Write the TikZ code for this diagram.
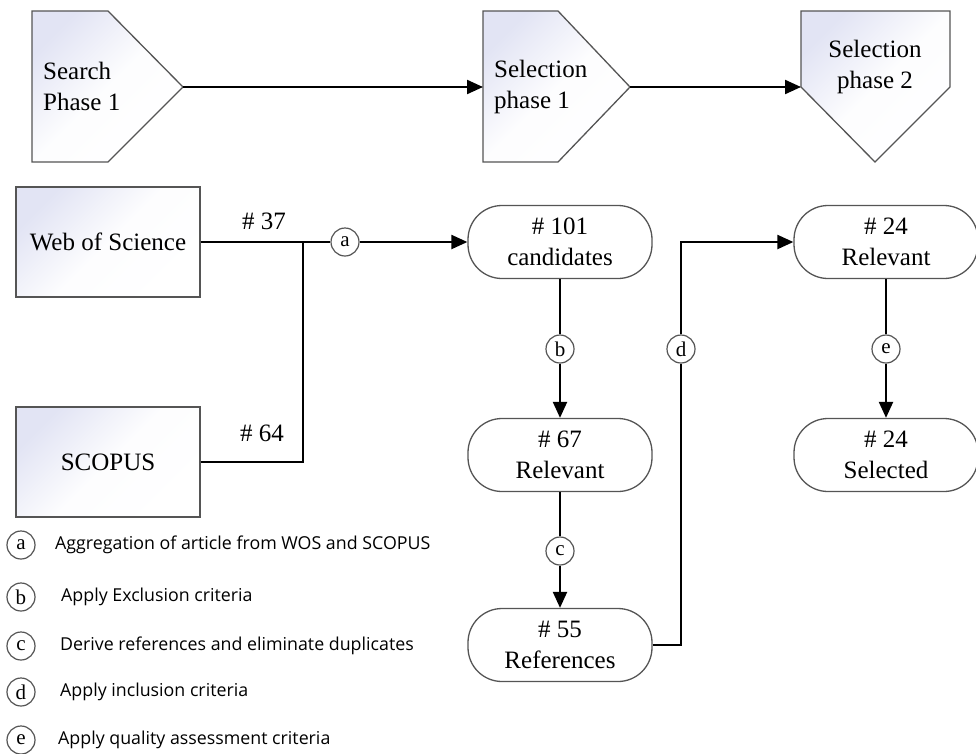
\documentclass[tikz,border=0pt]{standalone}
\usepackage{fontspec}
\setmainfont{Liberation Serif}
\newfontfamily\legfont{Open Sans}
\usetikzlibrary{arrows.meta}
\definecolor{lav}{HTML}{E2E4F4}
\definecolor{edge}{HTML}{555555}
\tikzset{
  shadebox/.style={draw=edge, line width=1.3pt, top color=lav, bottom color=white, middle color=white!92!lav, shading angle=45},
  srcbox/.style={shadebox, minimum width=184pt, minimum height=110pt, inner sep=0pt, font=\fontsize{25}{30}\selectfont},
  stadium/.style={draw=edge, line width=1.3pt, fill=white, rounded corners=34pt, minimum width=184pt, minimum height=73pt, inner sep=0pt, align=center, font=\fontsize{25}{31}\selectfont},
  lab/.style={circle, draw=edge, line width=1.2pt, fill=white, minimum size=28pt, inner sep=0pt, font=\fontsize{21}{21}\selectfont},
  phtext/.style={align=left, inner sep=0pt, font=\fontsize{25}{31}\selectfont},
  numtext/.style={inner sep=0pt, font=\fontsize{25}{25}\selectfont},
  legtext/.style={anchor=west, inner sep=0pt, font=\legfont\fontsize{17.8}{20}\selectfont},
  conn/.style={line width=2.2pt, black},
  arr/.style={conn, -{Triangle[length=16pt, width=14pt]}},
}
\begin{document}
\begin{tikzpicture}[x=1pt, y=-1pt]
\useasboundingbox (0,0) rectangle (976,753);
% phase shapes
\path[shadebox] (32,11) -- (108,11) -- (183,87) -- (108,162) -- (32,162) -- cycle;
\path[shadebox] (483,11) -- (558,11) -- (630,87) -- (558,162) -- (483,162) -- cycle;
\path[shadebox] (801,11) -- (950,11) -- (950,87) -- (875,162) -- (801,87) -- cycle;
\coordinate (s1tip) at (183,87);
\coordinate (p1left) at (483,87);
\coordinate (p1tip) at (630,87);
\coordinate (p2left) at (801,87);
\node[phtext, anchor=west] (s1) at (43,86) {Search\\Phase 1};
\node[phtext, anchor=west] (p1) at (494,87) {Selection\\phase 1};
\node[phtext, align=center] (p2) at (875,67) {Selection\\phase 2};
\draw[arr] (s1tip) -- (p1left);
\draw[arr] (p1tip) -- (p2left);

% sources
\node[srcbox] (wos) at (108,242) {Web of Science};
\node[srcbox] (scopus) at (108,462) {SCOPUS};

% stadium boxes
\node[stadium] (cand) at (560,242) {\# 101\\candidates};
\node[stadium] (rel67) at (560,455) {\# 67\\Relevant};
\node[stadium] (ref55) at (560,645) {\# 55\\References};
\node[stadium] (rel24) at (886,242) {\# 24\\Relevant};
\node[stadium] (sel24) at (886,455) {\# 24\\Selected};

% circle labels
\node[lab] (a) at (345,242) {a};
\node[lab] (b) at (560,349) {b};
\node[lab] (c) at (560,551) {c};
\node[lab] (d) at (681,349) {d};
\node[lab] (e) at (886,349) {e};
\coordinate (junc) at (303,242);

\draw[conn] (wos.east) -- (junc) -- (a);
\draw[conn] (scopus.east) -| (junc);
\draw[arr] (a) -- (cand.west);
\node[numtext] (n37) at (264,221) {\# 37};
\node[numtext] (n64) at (262,433) {\# 64};

\draw[conn] (cand.south) -- (b);
\draw[arr] (b) -- (rel67.north);
\draw[conn] (rel67.south) -- (c);
\draw[arr] (c) -- (ref55.north);
\draw[conn] (ref55.east) -| (d);
\draw[arr] (d) |- (rel24.west);
\draw[conn] (rel24.south) -- (e);
\draw[arr] (e) -- (sel24.north);

% legend
\node[lab] (la) at (21,545) {a};
\node[lab] (lb) at (21,597) {b};
\node[lab] (lc) at (21,646) {c};
\node[lab] (ld) at (21,692) {d};
\node[lab] (le) at (21,740) {e};
\node[legtext] (ta) at (55,545) {Aggregation of article from WOS and SCOPUS};
\node[legtext] (tb) at (61,597) {Apply Exclusion criteria};
\node[legtext] (tc) at (60,646) {Derive references and eliminate duplicates};
\node[legtext] (td) at (60,692) {Apply inclusion criteria};
\node[legtext] (te) at (58,740) {Apply quality assessment criteria};
\end{tikzpicture}
\end{document}
